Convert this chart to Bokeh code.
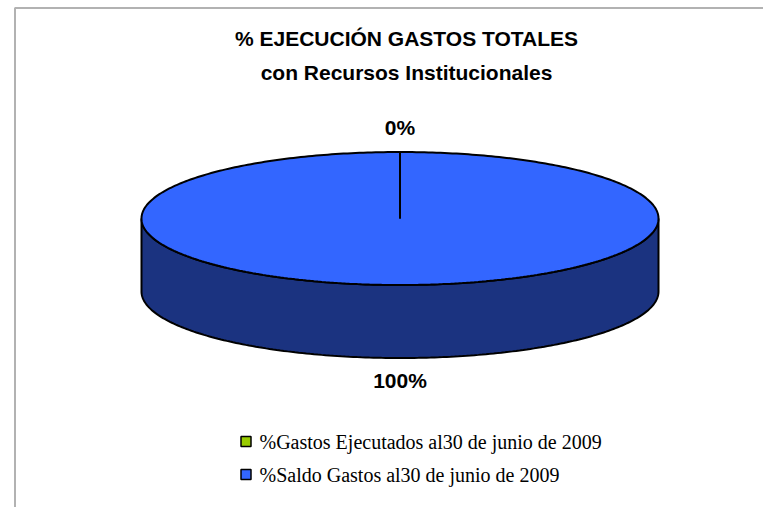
import numpy as np
from bokeh.plotting import figure
from bokeh.models import Range1d, BoxAnnotation
from bokeh.core.properties import value
from bokeh.embed import file_html
from bokeh.resources import INLINE

# ---- data ----
title_lines = ["% EJECUCIÓN GASTOS TOTALES", "con Recursos Institucionales"]
categories = ["%Gastos Ejecutados al30 de junio de 2009",
              "%Saldo Gastos al30 de junio de 2009"]
values = [0, 100]
top_colors = ["#99CC00", "#3366FF"]
side_colors = ["#5C7A00", "#1B3380"]

# ---- layout constants (screen pixels) ----
W, H = 763, 507
cx, cy, rx, ry, depth = 399.5, 218.0, 258.5, 66.5, 73.0

p = figure(width=W, height=H, output_backend="svg", toolbar_location=None,
           x_range=Range1d(0, W), y_range=Range1d(H, 0),
           min_border=0, outline_line_color=None)
p.axis.visible = False
p.grid.visible = False
p.background_fill_color = "white"

# frame
p.add_layout(BoxAnnotation(left=14.5, right=900, top=7.5, bottom=514, fill_alpha=0,
                           line_color="black", line_width=2))

def pt(theta, dy=0.0):
    return cx + rx * np.cos(theta), cy - ry * np.sin(theta) + dy

total = sum(values)
start = np.pi / 2
slices = []
for v in values:
    sweep = 2 * np.pi * v / total
    slices.append((start, start - sweep))  # clockwise
    start -= sweep

# side faces (front half: angles between pi and 2pi)
for (a0, a1), sc in zip(slices, side_colors):
    if a0 == a1:
        continue
    lo, hi = min(a0, a1), max(a0, a1)
    for shift in (0, 2 * np.pi, -2 * np.pi):
        s0, s1 = max(lo + shift, np.pi), min(hi + shift, 2 * np.pi)
        if s1 > s0:
            th = np.linspace(s0, s1, 200)
            xt, yt = pt(th)
            xb, yb = pt(th[::-1], depth)
            p.patch(np.concatenate([xt, xb]), np.concatenate([yt, yb]),
                    fill_color=sc, line_color="black", line_width=2)

# top faces
for (a0, a1), tc in zip(slices, top_colors):
    if a0 == a1:
        continue
    th = np.linspace(a0, a1, 400)
    xs, ys = pt(th)
    if abs(a0 - a1) < 2 * np.pi - 1e-9:
        xs = np.concatenate([[cx], xs]); ys = np.concatenate([[cy], ys])
    p.patch(xs, ys, fill_color=tc, line_color="black", line_width=2)

# slice boundary lines
for a0, a1 in slices:
    x1, y1 = pt(a0)
    p.line([cx, x1], [cy, y1], line_color="black", line_width=2)

# data labels
lab_x, lab_y, lab_t = [], [], []
for (a0, a1), v in zip(slices, values):
    mid = (a0 + a1) / 2
    lx, ly = pt(mid)
    if np.sin(mid) < 0:
        ly += depth + 22
    else:
        ly -= 25
    lab_x.append(lx); lab_y.append(ly); lab_t.append(f"{v}%")
p.text(x=lab_x, y=lab_y, text=lab_t, text_font=value("Liberation Sans"),
       text_font_style="bold", text_font_size="21px", text_align="center",
       text_baseline="middle", text_color="black")

# title
p.text(x=[406, 406], y=[38, 72], text=title_lines, text_font=value("Liberation Sans"),
       text_font_style="bold", text_font_size="21px", text_align="center",
       text_baseline="middle", text_color="black")

# legend
leg_y = [441 + 33 * i for i in range(len(categories))]
p.rect(x=[245.5] * len(categories), y=leg_y, width=10, height=10,
       fill_color=top_colors, line_color="black", line_width=1.5)
p.text(x=[259] * len(categories), y=leg_y, text=categories,
       text_font=value("Liberation Serif"), text_font_size="20px",
       text_align="left", text_baseline="middle", text_color="black")

open("out.html", "w").write(file_html(p, INLINE))
